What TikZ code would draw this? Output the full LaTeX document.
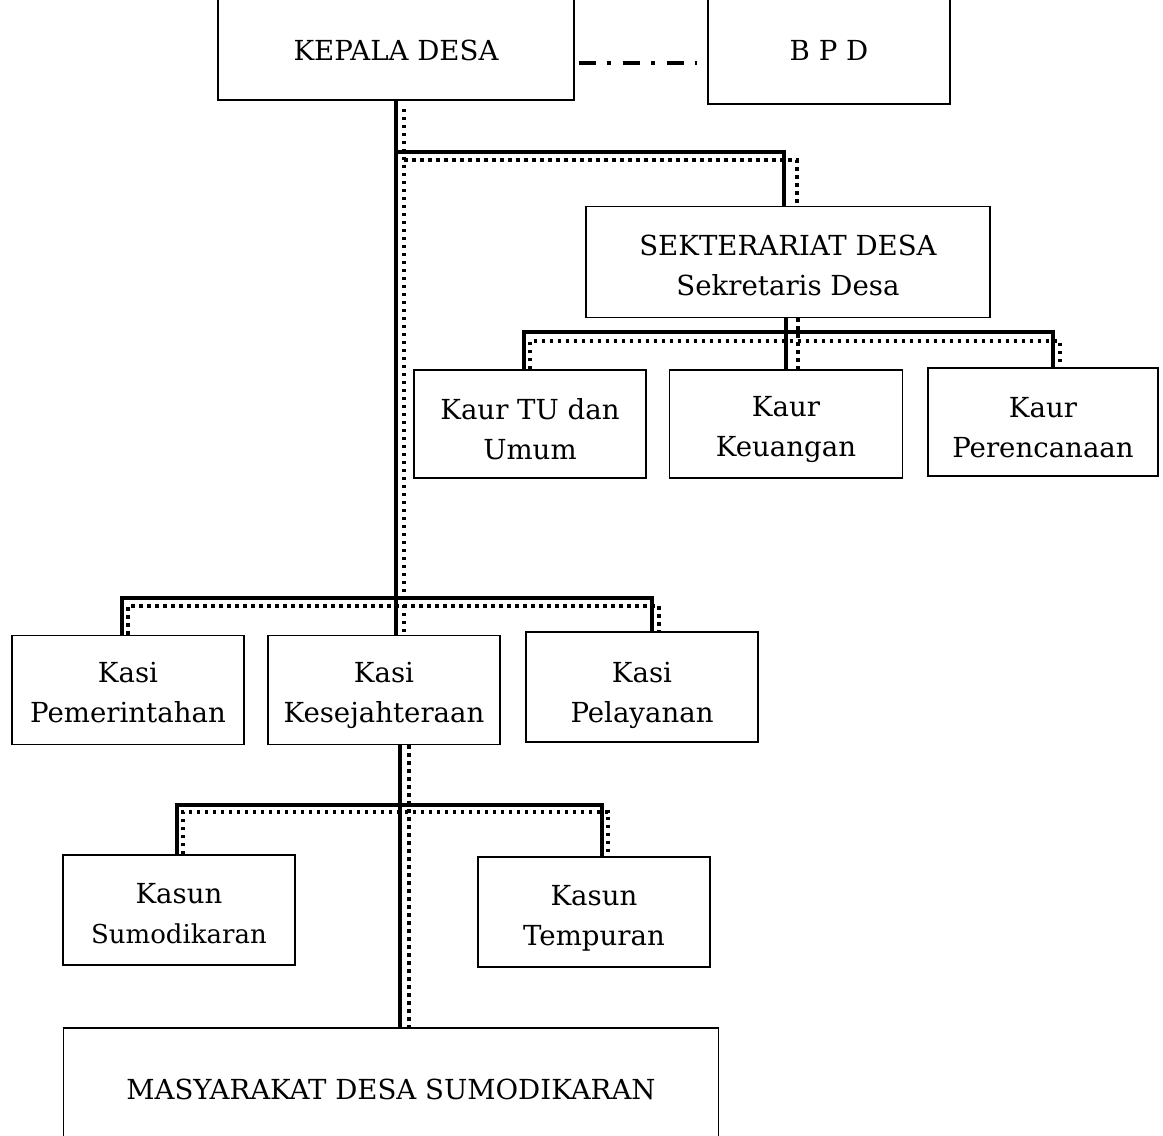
\documentclass[tikz,border=0pt]{standalone}
\usepackage{fontspec}
\setmainfont{DejaVu Serif}
\newcommand{\lift}[1][32pt]{\rule{0pt}{#1}}
\begin{document}
\begin{tikzpicture}[x=1pt,y=-1pt,
    solidln/.style={line width=4pt},
    dotln/.style={line width=3.5pt,dash pattern=on 3.5pt off 4.5pt},
    dashdotln/.style={line width=4pt,dash pattern=on 17pt off 11pt on 4pt off 12pt}]

      \useasboundingbox (0,0) rectangle (1163,1136);

      \begin{scope}[every node/.style={draw,line width=1.3pt,align=center,
          inner sep=0pt,font=\fontsize{27.6}{40}\selectfont}]
        \node[minimum width=356,minimum height=104] (kepala) at (396,48)  {\lift[26pt]KEPALA DESA};
        \node[minimum width=242,minimum height=108] (bpd)    at (829,50)  {\lift[20pt]B P D};
        \node[minimum width=404,minimum height=111] (sek)    at (788,262) {\lift[28pt]SEKTERARIAT DESA\\Sekretaris Desa};
        \node[minimum width=232,minimum height=108] (kaur1)  at (530,424) {\lift Kaur TU dan\\Umum};
        \node[minimum width=233,minimum height=108] (kaur2)  at (786,424) {\lift Kaur\\Keuangan};
        \node[minimum width=230,minimum height=108] (kaur3)  at (1043,422) {\lift Kaur\\Perencanaan};
        \node[minimum width=232,minimum height=109] (kasi1)  at (128,690) {\lift[26pt]Kasi\\Pemerintahan};
        \node[minimum width=232,minimum height=109] (kasi2)  at (384,690) {\lift Kasi\\Kesejahteraan};
        \node[minimum width=232,minimum height=110] (kasi3)  at (642,687) {\lift[38pt]Kasi\\Pelayanan};
        \node[minimum width=232,minimum height=110] (kasun1) at (179,910) {\lift[28pt]Kasun\\{\fontsize{26}{38}\selectfont Sumodikaran}};
        \node[minimum width=232,minimum height=110] (kasun2) at (594,912) {\lift Kasun\\Tempuran};
        \node[minimum width=655,minimum height=116] (masy)   at (391,1086) {\lift[27pt]MASYARAKAT DESA SUMODIKARAN};
      \end{scope}

      \coordinate (barsek)   at (0,152);
      \coordinate (barkaur)  at (0,332);
      \coordinate (barkasi)  at (0,598);
      \coordinate (barkasun) at (0,805);

      \draw[dashdotln] ([xshift=4pt,yshift=-15pt]kepala.east) -- ([xshift=-10pt]bpd.west |- 0,63);

      % kepala desa -> sekretariat / kasi
      \draw[solidln] (kepala.south) -- (kepala.south |- kasi2.north);
      \draw[dotln] ([xshift=8pt,yshift=-8pt]kepala.south) -- ([xshift=8pt]kepala.south |- kasi2.north);
      \draw[solidln] (kepala.south |- barsek) -| ([xshift=-4pt]sek.north);
      \draw[dotln] ([xshift=8pt]kepala.south |- 0,160) -| ([xshift=9pt]sek.north);

      % sekretariat -> kaur
      \draw[solidln] (kaur2.north |- sek.south) -- (kaur2.north);
      \draw[dotln] ([xshift=12pt]kaur2.north |- sek.south) -- ([xshift=12pt]kaur2.north);
      \draw[solidln] ([xshift=-6pt]kaur1.north) |- ([xshift=10pt]kaur3.north |- barkaur) -- ([xshift=10pt]kaur3.north);
      \draw[dotln] (kaur1.north) |- ([xshift=17pt]kaur3.north |- 0,341) -- ([xshift=17pt]kaur3.north);

      % kasi
      \draw[solidln] ([xshift=-6pt]kasi1.north) |- ([xshift=10pt]kasi3.north |- barkasi) -- ([xshift=10pt]kasi3.north);
      \draw[dotln] (kasi1.north) |- ([xshift=17pt]kasi3.north |- 0,606) -- ([xshift=17pt]kasi3.north);

      % kasi kesejahteraan -> masyarakat
      \draw[solidln] ([xshift=16pt]kasi2.south) -- ([xshift=16pt]kasi2.south |- masy.north);
      \draw[dotln] ([xshift=25pt]kasi2.south) -- ([xshift=25pt]kasi2.south |- masy.north);

      % kasun
      \draw[solidln] ([xshift=-2pt]kasun1.north) |- ([xshift=8pt]kasun2.north |- barkasun) -- ([xshift=8pt]kasun2.north);
      \draw[dotln] ([xshift=4pt]kasun1.north) |- ([xshift=14pt]kasun2.north |- 0,812) -- ([xshift=14pt]kasun2.north);

    \end{tikzpicture}
\end{document}
